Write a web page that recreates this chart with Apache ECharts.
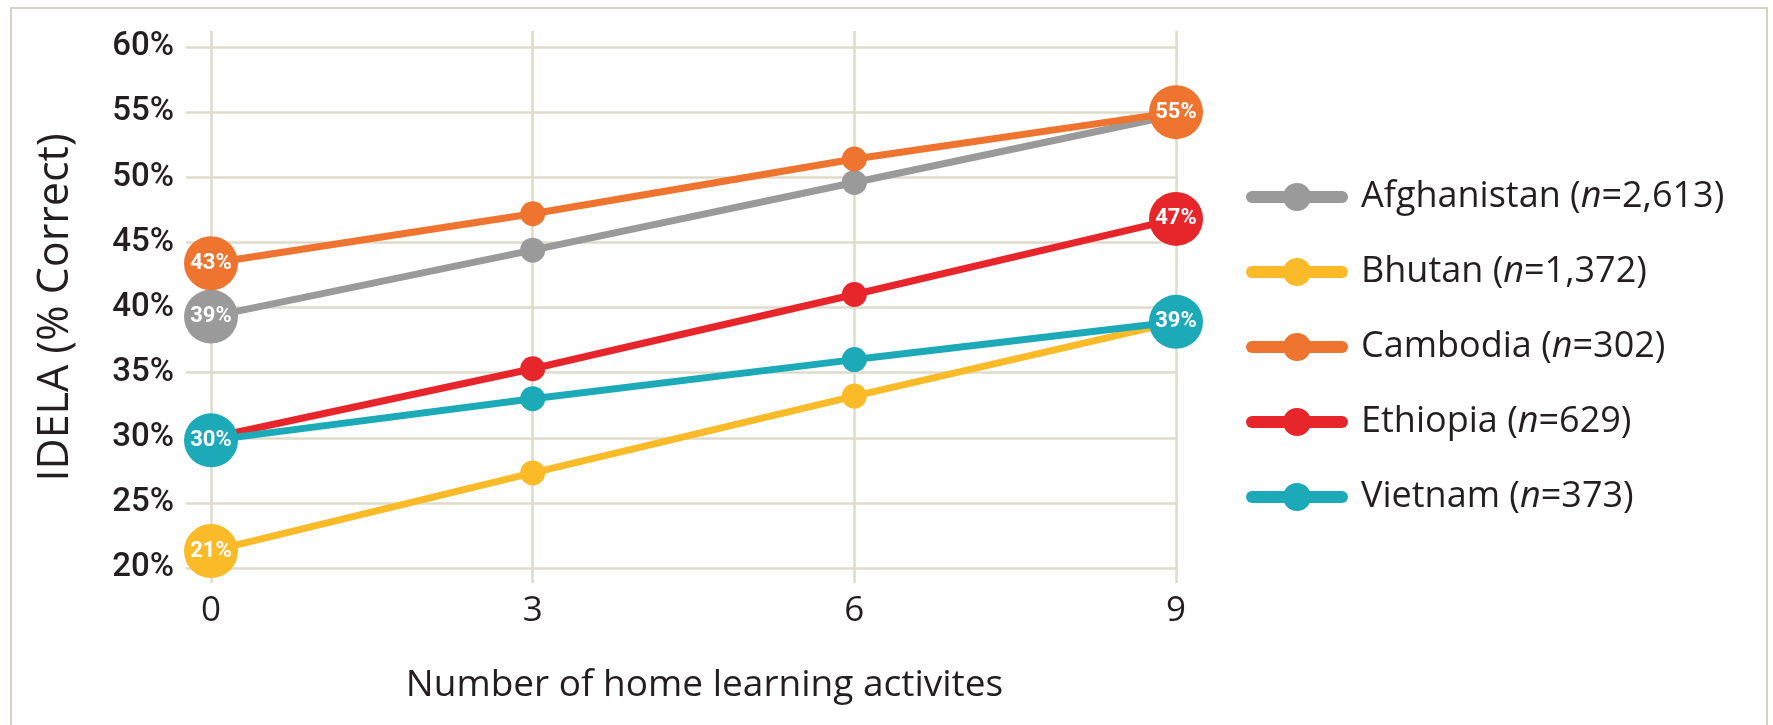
<!DOCTYPE html>
<html>
<head>
<meta charset="utf-8">
<script src="https://cdn.jsdelivr.net/npm/echarts@6/dist/echarts.min.js"></script>
<style>
html, body { margin: 0; padding: 0; background: #fff; }
#chart { width: 1773px; height: 725px; }
</style>
</head>
<body>
<div id="chart"></div>
<script>
// data
var activities = [0, 3, 6, 9];
var countries = ['Afghanistan', 'Bhutan', 'Cambodia', 'Ethiopia', 'Vietnam'];
var sampleSizes = ['2,613', '1,372', '302', '629', '373'];
var afghanistan = [39.3, 44.4, 49.6, 54.8];
var bhutan = [21.3, 27.3, 33.2, 38.9];
var cambodia = [43.4, 47.2, 51.4, 55.0];
var ethiopia = [30.0, 35.3, 41.0, 46.8];
var vietnam = [29.8, 33.0, 36.0, 38.9];
// points drawn as big labelled bubbles (index into activities)
var bubbles = [[0], [0], [0, 3], [3], [0, 3]];
var yMin = 20, yMax = 60, yStep = 5;

var colors = ['#9a9a9a', '#fbbb28', '#ee742f', '#e7262c', '#1ca9b8'];
var gridColor = '#dedbcb';
var textColor = '#231f20';
var values = [afghanistan, bhutan, cambodia, ethiopia, vietnam];

// horizontal grid sits 25px left of the x=0 line; vertical lines overshoot top/bottom
var gTop = 47, gBottom = 568;
var pxPerPct = (gBottom - gTop) / (yMax - yMin);
var overTop = 16, overBottom = 15;

var chart = echarts.init(document.getElementById('chart'), null, { renderer: 'canvas' });

var series = countries.map(function (name, i) {
  return {
    name: name,
    type: 'line',
    xAxisIndex: 1,
    yAxisIndex: 1,
    symbol: 'circle',
    color: colors[i],
    lineStyle: { width: 7, color: colors[i] },
    itemStyle: { color: colors[i] },
    label: {
      position: 'inside',
      color: '#fff',
      fontSize: 22,
      fontWeight: 'bold',
      fontFamily: 'Roboto',
      formatter: function (p) { return Math.round(p.value[1]) + '%'; }
    },
    emphasis: { disabled: true },
    data: values[i].map(function (v, j) {
      var big = bubbles[i].indexOf(j) > -1;
      return {
        value: [activities[j], v],
        symbolSize: big ? 54 : 25,
        label: { show: big }
      };
    })
  };
});

var option = {
  animation: false,
  graphic: [{
    type: 'rect',
    shape: { x: 11, y: 8, width: 1756, height: 760 },
    style: { fill: 'none', stroke: '#d5d1c5', lineWidth: 2 },
    silent: true
  }],
  grid: [
    { left: 186, right: 597, top: gTop, bottom: 725 - gBottom },
    { left: 211, right: 597, top: gTop - overTop, bottom: 725 - gBottom - overBottom }
  ],
  legend: {
    orient: 'vertical',
    left: 1241,
    top: 174,
    itemWidth: 90,
    itemHeight: 35,
    itemGap: 39,
    data: countries,
    lineStyle: { width: 12, cap: 'round' },
    formatter: function (name) {
      var i = countries.indexOf(name);
      return name + ' ({i|n}=' + sampleSizes[i] + ')';
    },
    textStyle: {
      fontSize: 36,
      color: textColor,
      fontFamily: 'Open Sans',
      padding: [0, 0, 0, 14],
      rich: { i: { fontSize: 36, fontStyle: 'italic', fontFamily: 'Open Sans', color: textColor } }
    }
  },
  xAxis: [
    { gridIndex: 0, type: 'value', min: 0, max: 1, show: false },
    {
      gridIndex: 1,
      type: 'value',
      min: 0,
      max: 9,
      interval: 3,
      axisLine: { show: false },
      axisTick: { show: false },
      splitLine: { show: true, lineStyle: { color: gridColor, width: 2.5 } },
      axisLabel: { fontSize: 35, color: textColor, margin: 11, fontFamily: 'Open Sans' },
      name: 'Number of home learning activites',
      nameLocation: 'middle',
      nameGap: 84,
      nameTextStyle: { fontSize: 37, color: textColor, fontFamily: 'Open Sans', padding: [0, 0, 0, 22] }
    }
  ],
  yAxis: [
    {
      gridIndex: 0,
      type: 'value',
      min: yMin,
      max: yMax,
      interval: yStep,
      axisLine: { show: false },
      axisTick: { show: false },
      splitLine: { show: true, lineStyle: { color: gridColor, width: 2.5 } },
      axisLabel: { formatter: '{value}%', fontSize: 33, fontWeight: 500, color: textColor, margin: 12, fontFamily: 'Roboto' },
      name: 'IDELA (% Correct)',
      nameLocation: 'middle',
      nameGap: 109,
      nameTextStyle: { fontSize: 43, color: textColor, fontFamily: 'Open Sans' }
    },
    {
      gridIndex: 1,
      type: 'value',
      min: yMin - overBottom / pxPerPct,
      max: yMax + overTop / pxPerPct,
      show: false
    }
  ],
  series: series
};

chart.setOption(option);
</script>
</body>
</html>
